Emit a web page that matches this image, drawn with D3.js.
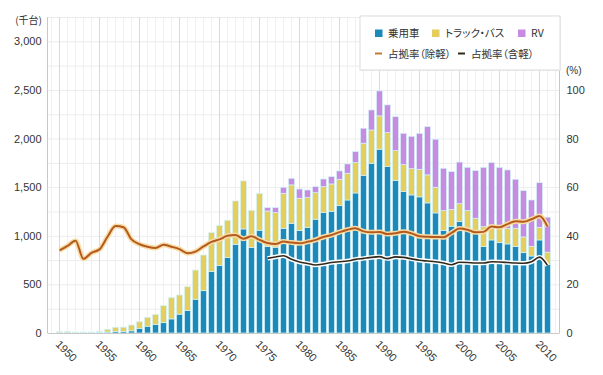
<!DOCTYPE html>
<html>
<head>
<meta charset="utf-8">
<script src="https://cdn.jsdelivr.net/npm/d3@7"></script>
<style>
  body { margin: 0; background: #fff; }
  svg { display: block; }
  text { font-family: "Liberation Sans", "Noto Sans CJK JP", sans-serif; fill: #333; }
  .jp { font-family: "Noto Sans CJK JP", sans-serif; font-feature-settings: "palt"; }
</style>
</head>
<body>
<svg id="chart"></svg>
<script>
// years 1950 - 2011
var years = d3.range(1950, 2012);

// 千台
var passenger = [3, 3, 6, 6, 6, 8, 10, 15, 14, 22,
    48, 70, 86, 106, 145, 194, 230, 347, 435, 631,
    696, 777, 912, 1070, 878, 1057, 888, 882, 1077, 1128,
    1053, 1087, 1170, 1238, 1252, 1310, 1368, 1440, 1622, 1746,
    1890, 1711, 1568, 1454, 1420, 1400, 1338, 1235, 1055, 1098,
    1148, 1060, 1040, 888, 957, 929, 916, 888, 826, 792,
    957, 705];
var truckBus = [10, 12, 3, 3, 3, 8, 28, 44, 46, 60,
    68, 91, 105, 175, 218, 197, 246, 300, 367, 401,
    408, 383, 446, 494, 384, 377, 367, 356, 360, 395,
    333, 305, 273, 267, 281, 271, 275, 312, 330, 342,
    343, 350, 308, 278, 270, 284, 288, 264, 203, 174,
    182, 198, 140, 206, 130, 148, 160, 189, 162, 100,
    130, 127];
var rv = [0, 0, 0, 0, 0, 0, 0, 0, 0, 0,
    0, 0, 0, 0, 0, 0, 0, 0, 0, 0,
    0, 0, 0, 0, 0, 0, 34, 51, 62, 68,
    95, 79, 62, 79, 75, 86, 96, 113, 154, 206,
    257, 285, 349, 322, 333, 370, 496, 494, 436, 388,
    428, 446, 490, 610, 665, 627, 601, 504, 476, 476,
    459, 359];

// %
var shareExKei = [34, 35.8, 38, 30.5, 33, 34.4, 39.6, 44, 43.5, 38.5,
    36.5, 35.5, 35, 36.3, 35.5, 34.5, 32.8, 33.5, 35.6, 37.5,
    38.5, 40, 40.3, 38.8, 39.8, 38.3, 37, 36.6, 37.6, 37.2,
    36.9, 37.5, 38.3, 39.5, 40.3, 41.5, 42.5, 43.1, 41.8, 41.4,
    41.6, 40.7, 41, 41.7, 41, 39.8, 39.6, 39.5, 39.4, 41.2,
    43, 42.5, 41.4, 41.6, 43.8, 43.5, 44.8, 46, 45.8, 46.8,
    48.1, 43.8];
var shareInKei = [null, null, null, null, null, null, null, null, null, null,
    null, null, null, null, null, null, null, null, null, null,
    null, null, null, null, null, null, 30.7, 31.3, 31.8, 30.3,
    29.2, 28.6, 28, 28.4, 29, 29.3, 29.6, 30.3, 30.7, 31.1,
    31.4, 30.6, 31.3, 31.1, 30.5, 29.9, 29.6, 29.3, 28.8, 28.1,
    29.1, 29, 28.8, 28.8, 29.3, 29.2, 29, 28.8, 28.7, 29.3,
    31.2, 27.8];

var unitTicks = [0, 500, 1000, 1500, 2000, 2500, 3000];
var pctTicks = [0, 20, 40, 60, 80, 100];
var yearTicks = [1950, 1955, 1960, 1965, 1970, 1975, 1980, 1985, 1990, 1995, 2000, 2005, 2010];

var seriesKeys = ["passenger", "truckBus", "rv"];
var seriesNames = ["乗用車", "トラック・バス", "RV"];
var colors = ["#1c89bb", "#e5ce5e", "#c98be2"];

var dim = { width: 603, height: 375 };
var margin = { left: 47.5, right: 43.5, top: 17, bottom: 42 };

var svg = d3.select("#chart")
    .attr("width", dim.width)
    .attr("height", dim.height);

var xScale = d3.scaleLinear()
    .domain([1948.5, 2012.5])
    .range([margin.left, dim.width - margin.right]);

var yScale = d3.scaleLinear()
    .domain([0, 3250])
    .range([dim.height - margin.bottom, margin.top]);

var pctScale = d3.scaleLinear()
    .domain([0, 130])
    .range([dim.height - margin.bottom, margin.top]);

var table = years.map(function(y, i) {
    return { year: y, passenger: passenger[i], truckBus: truckBus[i], rv: rv[i] };
});
var stacked = d3.stack().keys(seriesKeys)(table);

var x0 = xScale.range()[0], x1 = xScale.range()[1];
var yBottom = yScale(0), yTop = margin.top;

// grid
var grid = svg.append("g");
grid.selectAll(".minor")
    .data(d3.range(1949, 2013))
    .enter().append("line")
    .attr("x1", d => xScale(d)).attr("x2", d => xScale(d))
    .attr("y1", yTop).attr("y2", yBottom)
    .attr("stroke", "#f0f0f0");
grid.selectAll(".hline")
    .data(d3.range(250, 3251, 250))
    .enter().append("line")
    .attr("x1", x0).attr("x2", x1)
    .attr("y1", d => yScale(d) + 0.5).attr("y2", d => yScale(d) + 0.5)
    .attr("stroke", "#ececec");
grid.selectAll(".major")
    .data(yearTicks)
    .enter().append("line")
    .attr("x1", d => xScale(d)).attr("x2", d => xScale(d))
    .attr("y1", yTop).attr("y2", yBottom)
    .attr("stroke", "#d9d9d9");

// bars
var barW = 6;
svg.append("g")
    .selectAll("g")
    .data(stacked).enter()
    .append("g")
    .attr("fill", (d, i) => colors[i])
    .selectAll("rect")
    .data(d => d).enter()
    .append("rect")
    .attr("x", d => xScale(d.data.year) - barW / 2)
    .attr("width", barW)
    .attr("y", d => yScale(d[1]))
    .attr("height", d => Math.max(0, yScale(d[0]) - yScale(d[1])))
    .attr("stroke", "#d3f3fa")
    .attr("stroke-width", 0.7);

// axis frame
svg.append("line").attr("x1", x0).attr("x2", x0).attr("y1", yTop).attr("y2", yBottom).attr("stroke", "#c8c8c8");
svg.append("line").attr("x1", x1).attr("x2", x1).attr("y1", yTop).attr("y2", yBottom).attr("stroke", "#c8c8c8");
svg.append("line").attr("x1", x0).attr("x2", x1).attr("y1", yBottom + 0.5).attr("y2", yBottom + 0.5).attr("stroke", "#c8c8c8");

// share lines
var lineEx = d3.line()
    .x((d, i) => xScale(years[i]))
    .y(d => pctScale(d))
    .curve(d3.curveMonotoneX);
var lineIn = d3.line()
    .defined(d => d != null)
    .x((d, i) => xScale(years[i]))
    .y(d => pctScale(d))
    .curve(d3.curveMonotoneX);

svg.append("path").datum(shareInKei).attr("d", lineIn)
    .attr("fill", "none").attr("stroke", "#fff").attr("stroke-width", 4.5);
svg.append("path").datum(shareInKei).attr("d", lineIn)
    .attr("fill", "none").attr("stroke", "#2f2a1c").attr("stroke-width", 1.6);

svg.append("path").datum(shareExKei).attr("d", lineEx)
    .attr("fill", "none").attr("stroke", "#f7dca6").attr("stroke-width", 5);
svg.append("path").datum(shareExKei).attr("d", lineEx)
    .attr("fill", "none").attr("stroke", "#b55a1e").attr("stroke-width", 2);

// axes
var leftAxis = svg.append("g")
    .attr("transform", "translate(" + x0 + ",0)")
    .call(d3.axisLeft(yScale).tickValues(unitTicks).tickFormat(d3.format(",")).tickSize(0).tickPadding(6));
var rightAxis = svg.append("g")
    .attr("transform", "translate(" + x1 + ",0)")
    .call(d3.axisRight(pctScale).tickValues(pctTicks).tickSize(0).tickPadding(7));
var bottomAxis = svg.append("g")
    .attr("transform", "translate(0," + yBottom + ")")
    .call(d3.axisBottom(xScale).tickValues(yearTicks).tickFormat(d3.format("d")).tickSize(0));

[leftAxis, rightAxis, bottomAxis].forEach(function(a) {
    a.select(".domain").remove();
    a.selectAll("text").style("font-family", "Liberation Sans, sans-serif").style("font-size", "11px").attr("fill", "#333");
});
bottomAxis.selectAll("text")
    .attr("y", 0).attr("dy", 0)
    .attr("text-anchor", "start")
    .attr("transform", "translate(-5,12) rotate(45)");

svg.append("text").attr("class", "jp")
    .attr("x", 42).attr("y", 24).attr("text-anchor", "end")
    .style("font-size", "10px").text("(千台)");
svg.append("text")
    .attr("x", 566).attr("y", 74)
    .style("font-size", "10px").text("(%)");

// legend
var legend = svg.append("g").attr("transform", "translate(360,16)");
legend.append("rect").attr("x", 1).attr("y", 1).attr("width", 200).attr("height", 54).attr("fill", "#eee");
legend.append("rect").attr("width", 200).attr("height", 54).attr("fill", "#fff").attr("stroke", "#dcdcdc");

var boxX = [15, 72, 158];
seriesNames.forEach(function(name, i) {
    legend.append("rect")
        .attr("x", boxX[i]).attr("y", 13.5).attr("width", 7.5).attr("height", 7.5)
        .attr("fill", colors[i]);
    legend.append("text").attr("class", "jp")
        .attr("x", boxX[i] + 13).attr("y", 21)
        .style("font-size", "10.5px").text(name);
});

var lineNames = ["占拠率（除軽）", "占拠率（含軽）"];
var lineColors = ["#c47a2c", "#2f2a1c"];
var lineX = [15, 98];
lineNames.forEach(function(name, i) {
    legend.append("line")
        .attr("x1", lineX[i]).attr("x2", lineX[i] + 7)
        .attr("y1", 37.5).attr("y2", 37.5)
        .attr("stroke", lineColors[i]).attr("stroke-width", 2);
    legend.append("text").attr("class", "jp")
        .attr("x", lineX[i] + 13).attr("y", 41.5)
        .style("font-size", "10.5px").text(name);
});
</script>
</body>
</html>
